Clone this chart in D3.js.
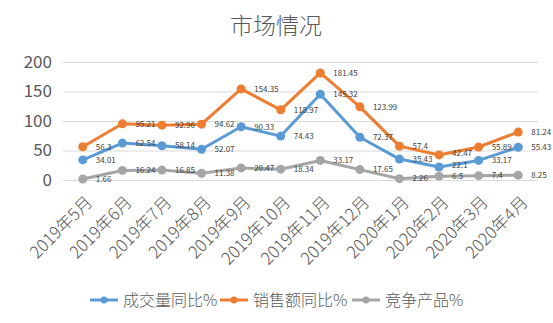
<!DOCTYPE html>
<html>
<head>
<meta charset="utf-8">
<script src="https://cdn.jsdelivr.net/npm/d3@7"></script>
<style>
  body { margin: 0; background: #fff; }
  svg { display: block; }
  text { font-family: "Noto Sans CJK SC", "Liberation Sans", sans-serif; }
</style>
</head>
<body>
<svg id="chart" width="553" height="323"></svg>
<script>
// Monthly categories
const months = ["2019年5月", "2019年6月", "2019年7月", "2019年8月", "2019年9月", "2019年10月",
                "2019年11月", "2019年12月", "2020年1月", "2020年2月", "2020年3月", "2020年4月"];
// Series values
const volumeYoY = [34.01, 62.54, 58.14, 52.07, 90.33, 74.43, 145.32, 72.37, 35.43, 22.1, 33.17, 55.43];
const salesYoY  = [56.3, 95.21, 92.96, 94.62, 154.35, 118.97, 181.45, 123.99, 57.4, 42.47, 55.89, 81.24];
const competitor = [1.66, 16.24, 16.85, 11.38, 20.47, 18.34, 33.17, 17.65, 2.26, 6.5, 7.4, 8.25];
const seriesNames = ["成交量同比%", "销售额同比%", "竞争产品%"];
const yTicks = [0, 50, 100, 150, 200];

const series = [
  { name: seriesNames[0], values: volumeYoY, color: "#5B9BD5" },
  { name: seriesNames[1], values: salesYoY, color: "#ED7D31" },
  { name: seriesNames[2], values: competitor, color: "#A5A5A5" }
];

const svg = d3.select("#chart");
const plotLeft = 63, plotRight = 538, plotTop = 62, plotBottom = 180;

const x = d3.scalePoint().domain(months).range([plotLeft, plotRight]).padding(0.5);
const y = d3.scaleLinear().domain([0, 200]).range([plotBottom, plotTop]);

// Title
svg.append("text")
  .attr("x", 276).attr("y", 34)
  .attr("text-anchor", "middle")
  .attr("font-size", 23)
  .attr("font-weight", 300)
  .attr("fill", "#595959")
  .text("市场情况");

// Gridlines + y labels
const yAxis = svg.append("g").attr("transform", `translate(${plotLeft},0)`)
  .call(d3.axisLeft(y).tickValues(yTicks).tickSize(-(plotRight - plotLeft)).tickPadding(11));
yAxis.select(".domain").remove();
yAxis.selectAll(".tick line").attr("stroke", "#D9D9D9").attr("stroke-width", 1);
yAxis.selectAll(".tick text")
  .attr("fill", "#595959")
  .attr("font-size", 17)
  .attr("font-family", "'Liberation Sans', sans-serif");

// X labels, rotated
const xAxis = svg.append("g").attr("transform", `translate(0,${plotBottom})`)
  .call(d3.axisBottom(x).tickSize(0).tickPadding(0));
xAxis.select(".domain").remove();
xAxis.selectAll(".tick text")
  .attr("fill", "#595959")
  .attr("font-size", 17)
  .attr("font-weight", 300)
  .attr("text-anchor", "end")
  .attr("transform", "translate(6,19) rotate(-45)")
  .attr("dy", "0.35em");

// Lines, markers and value labels
const line = d3.line().x((d, i) => x(months[i])).y(d => y(d));
series.forEach(s => {
  svg.append("path")
    .datum(s.values)
    .attr("fill", "none")
    .attr("stroke", s.color)
    .attr("stroke-width", 3)
    .attr("stroke-linejoin", "round")
    .attr("d", line);
  svg.append("g").selectAll("circle")
    .data(s.values)
    .join("circle")
    .attr("cx", (d, i) => x(months[i]))
    .attr("cy", d => y(d))
    .attr("r", 4.5)
    .attr("fill", s.color);
});

// Value labels sit to the right of each point; the crowded Feb 2020 pair is spread slightly
const labelLift = { "0-9": -2, "1-9": -1.5 };
series.forEach((s, si) => {
  svg.append("g").selectAll("text")
    .data(s.values)
    .join("text")
    .attr("x", (d, i) => x(months[i]) + 13)
    .attr("y", (d, i) => y(d) + (labelLift[`${si}-${i}`] || 0))
    .attr("dy", "0.35em")
    .attr("font-size", 8)
    .attr("font-family", "'Liberation Sans', sans-serif")
    .attr("fill", "#404040")
    .text(d => d);
});

// Legend
const legendX = [90, 220, 352];
series.forEach((s, i) => {
  const g = svg.append("g").attr("transform", `translate(${legendX[i]},300)`);
  g.append("line").attr("x1", 0).attr("x2", 28).attr("y1", 0).attr("y2", 0)
    .attr("stroke", s.color).attr("stroke-width", 3);
  g.append("circle").attr("cx", 14).attr("cy", 0).attr("r", 3.5).attr("fill", s.color);
  g.append("text").attr("x", 33).attr("y", 0).attr("dy", "0.35em")
    .attr("font-size", 16).attr("font-weight", 300).attr("fill", "#595959").text(s.name);
});
</script>
</body>
</html>
